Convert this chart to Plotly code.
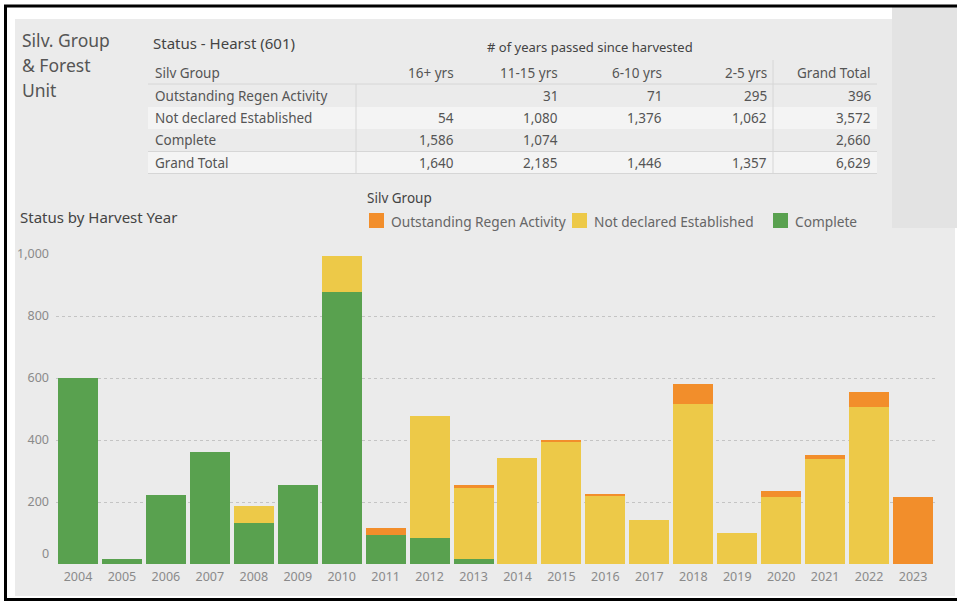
import plotly.graph_objects as go

# ---- chart data: hectares by harvest year, split by silviculture status ----
years = [str(y) for y in range(2004, 2024)]
complete = [601, 15, 224, 360, 132, 254, 879, 95, 84, 16, 0, 0, 0, 0, 0, 0, 0, 0, 0, 0]
not_declared = [0, 0, 0, 0, 54, 0, 116, 0, 393, 230, 341, 396, 222, 141, 516, 101, 216, 339, 507, 0]
outstanding = [0, 0, 0, 0, 0, 0, 0, 22, 0, 9, 0, 3, 3, 0, 65, 0, 19, 12, 48, 216]

series_names = ["Outstanding Regen Activity", "Not declared Established", "Complete"]
series_colors = ["#f28e2b", "#edc948", "#59a14f"]

y_ticks = [0, 200, 400, 600, 800, 1000]
y_tick_text = ["0", "200", "400", "600", "800", "1,000"]

# ---- summary table ----
table_title = "Status - Hearst (601)"
table_subtitle = "# of years passed since harvested"
table_columns = ["Silv Group", "16+ yrs", "11-15 yrs", "6-10 yrs", "2-5 yrs", "Grand Total"]
table_rows = ["Outstanding Regen Activity", "Not declared Established", "Complete", "Grand Total"]
table_values = [
    ["", "31", "71", "295", "396"],
    ["54", "1,080", "1,376", "1,062", "3,572"],
    ["1,586", "1,074", "", "", "2,660"],
    ["1,640", "2,185", "1,446", "1,357", "6,629"],
]

FONT = "Noto Sans"
W, H = 957, 601
L, R, T, B = 56, 22, 254, 37
PW, PH = W - L - R, H - T - B
PANEL = "#ebebeb"


def fx(px):
    return (px - L) / PW


def fy(py):
    return (H - B - py) / PH


fig = go.Figure()
for vals, name, color in [
    (complete, series_names[2], series_colors[2]),
    (not_declared, series_names[1], series_colors[1]),
    (outstanding, series_names[0], series_colors[0]),
]:
    fig.add_trace(go.Bar(x=years, y=vals, name=name, marker=dict(color=color, line=dict(width=0)),
                         showlegend=False))

shapes = []
annotations = []


def rect(x0, y0, x1, y1, color, layer="below"):
    shapes.append(dict(type="rect", xref="paper", yref="paper", x0=fx(x0), x1=fx(x1),
                       y0=fy(y1), y1=fy(y0), fillcolor=color, line=dict(width=0), layer=layer))


def hline(x0, x1, y, color, width=1):
    shapes.append(dict(type="line", xref="paper", yref="paper", x0=fx(x0), x1=fx(x1),
                       y0=fy(y), y1=fy(y), line=dict(color=color, width=width), layer="below"))


def vline(x, y0, y1, color, width=1):
    shapes.append(dict(type="line", xref="paper", yref="paper", x0=fx(x), x1=fx(x),
                       y0=fy(y0), y1=fy(y1), line=dict(color=color, width=width), layer="below"))


def text(x, y, s, size, color="#555555", anchor="left"):
    annotations.append(dict(xref="paper", yref="paper", x=fx(x), y=fy(y), text=s, showarrow=False,
                            xanchor=anchor, yanchor="middle", borderpad=0,
                            font=dict(family=FONT, size=size, color=color)))


# frame and panels
rect(15, 19, 955, 596, PANEL)
rect(892, 7, 957, 228, "#e3e3e3")
hline(4, 957, 6, "#000000", 3)
hline(4, 957, 599.5, "#000000", 3)
vline(5.5, 5, 601, "#000000", 3)

# dashboard heading
text(21, 40, "Silv. Group", 17.5, "#555555")
text(21, 65, "& Forest", 17.5, "#555555")
text(21, 90, "Unit", 17.5, "#555555")

# table banding and rules
row_y = [96, 118, 140, 163]
rect(148, 107, 877, 129, "#f4f4f4")
rect(148, 152, 877, 173, "#f4f4f4")
hline(148, 877, 84, "#d6d6d6")
hline(148, 877, 151.5, "#d6d6d6")
hline(148, 877, 173.5, "#d6d6d6")
vline(356, 84, 173, "#d6d6d6")
vline(773, 60, 173, "#d6d6d6")

text(152, 43, table_title, 15, "#444444")
text(590, 47, table_subtitle, 13, "#444444", "center")
col_right = [455, 559, 663, 768, 872]
text(154, 73, table_columns[0], 13.5, "#555555")
for cx, label in zip(col_right, table_columns[1:]):
    text(cx, 73, label, 13.5, "#555555", "right")
for ry, rname, rvals in zip(row_y, table_rows, table_values):
    text(154, ry, rname, 13.5, "#555555")
    for cx, v in zip(col_right, rvals):
        if v:
            text(cx, ry, v, 13.5, "#555555", "right")

# chart heading and legend
text(19, 217, "Status by Harvest Year", 15, "#444444")
text(366, 198, "Silv Group", 13.5, "#444444")
legend_pos = [(369, 390), (572, 593), (773, 794)]
for (sx, tx), name, color in zip(legend_pos, series_names, series_colors):
    rect(sx, 213, sx + 15, 228, color, layer="above")
    text(tx, 221, name, 13.7, "#666666")

# zero label sits just above the baseline
annotations.append(dict(xref="paper", yref="y", x=0, y=y_ticks[0], text=y_tick_text[0], showarrow=False,
                        xanchor="right", yanchor="middle", xshift=-6, yshift=11, borderpad=0,
                        font=dict(family=FONT, size=12.5, color="#8a8a8a")))

fig.update_layout(
    width=W, height=H, autosize=False,
    margin=dict(l=L, r=R, t=T, b=B, pad=0),
    paper_bgcolor="#ffffff", plot_bgcolor=PANEL,
    barmode="stack", bargap=0.09,
    font=dict(family=FONT, color="#8a8a8a"),
    shapes=shapes, annotations=annotations,
    xaxis=dict(type="category", showgrid=False, zeroline=False, showline=False, ticks="",
               tickfont=dict(size=12.5, color="#8a8a8a"), ticklabelstandoff=3),
    yaxis=dict(range=[0, 1000], tickvals=y_ticks[1:], ticktext=y_tick_text[1:],
               showgrid=True, gridcolor="#c4c4c4", griddash="dot", gridwidth=1,
               zeroline=False, showline=False, ticks="", ticklabelstandoff=6,
               tickfont=dict(size=12.5, color="#8a8a8a")),
)

fig.write_html("out.html")
